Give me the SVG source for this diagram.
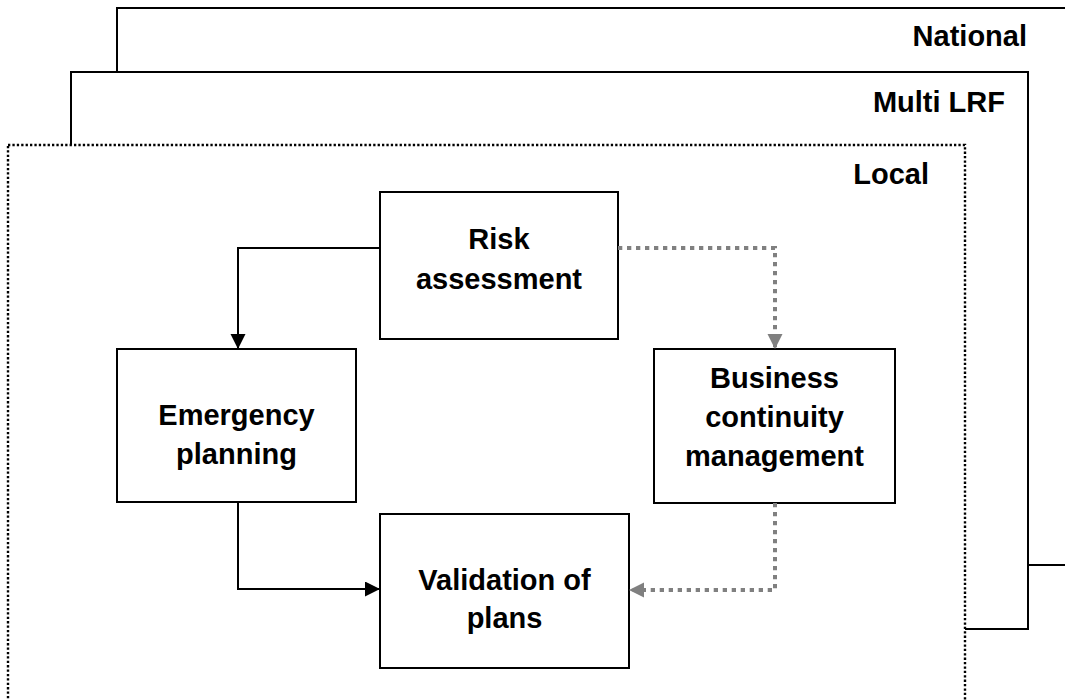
<svg xmlns="http://www.w3.org/2000/svg" width="1065" height="700" viewBox="0 0 1065 700">
  <style>
    .frame { fill: #ffffff; stroke: #000000; stroke-width: 2; }
    .local { fill: #ffffff; stroke: #000000; stroke-width: 2.4; stroke-dasharray: 2.3 2.1; }
    .box { fill: #ffffff; stroke: #000000; stroke-width: 2; }
    .lbl { font-family: "Liberation Sans", Arial, sans-serif; font-weight: bold; font-size: 29px; fill: #000000; }
    .c { text-anchor: middle; }
    .r { text-anchor: end; }
    .solid { fill: none; stroke: #000000; stroke-width: 2; }
    .dot { fill: none; stroke: #808080; stroke-width: 4; stroke-dasharray: 4.3 4.7; }
  </style>
  <defs>
    <marker id="ab" markerUnits="userSpaceOnUse" markerWidth="16" markerHeight="16" refX="15" refY="7.5" orient="auto">
      <path d="M0,0 L15,7.5 L0,15 z" fill="#000000"/>
    </marker>
    <marker id="ag" markerUnits="userSpaceOnUse" markerWidth="16" markerHeight="16" refX="15" refY="7.5" orient="auto">
      <path d="M0,0 L15,7.5 L0,15 z" fill="#808080"/>
    </marker>
  </defs>
  <rect width="1065" height="700" fill="#ffffff"/>

  <g id="national">
    <rect class="frame" x="117" y="8" width="980" height="557"/>
    <text class="lbl r" x="1027" y="46">National</text>
  </g>
  <g id="multi-lrf">
    <rect class="frame" x="71" y="72" width="957" height="557"/>
    <text class="lbl r" x="1005" y="112">Multi LRF</text>
  </g>
  <g id="local">
    <rect class="local" x="8" y="145" width="957" height="600"/>
    <text class="lbl r" x="929" y="184">Local</text>
  </g>

  <g id="risk-assessment">
    <rect class="box" x="380" y="192" width="238" height="147"/>
    <text class="lbl c" x="499" y="249">Risk</text>
    <text class="lbl c" x="499" y="289">assessment</text>
  </g>
  <g id="emergency-planning">
    <rect class="box" x="117" y="349" width="239" height="153"/>
    <text class="lbl c" x="236.5" y="425">Emergency</text>
    <text class="lbl c" x="236.5" y="464">planning</text>
  </g>
  <g id="business-continuity">
    <rect class="box" x="654" y="349" width="241" height="154"/>
    <text class="lbl c" x="774.5" y="388">Business</text>
    <text class="lbl c" x="774.5" y="427">continuity</text>
    <text class="lbl c" x="774.5" y="466">management</text>
  </g>
  <g id="validation">
    <rect class="box" x="380" y="514" width="249" height="154"/>
    <text class="lbl c" x="504.5" y="590">Validation of</text>
    <text class="lbl c" x="504.5" y="628">plans</text>
  </g>

  <g id="connectors">
    <path class="solid" d="M380,248 H238 V349" marker-end="url(#ab)"/>
    <path class="solid" d="M238,502 V589 H380" marker-end="url(#ab)"/>
    <path class="dot" d="M618,248 H775 V349" marker-end="url(#ag)"/>
    <path class="dot" d="M775,503 V590 H629" marker-end="url(#ag)"/>
  </g>
</svg>
